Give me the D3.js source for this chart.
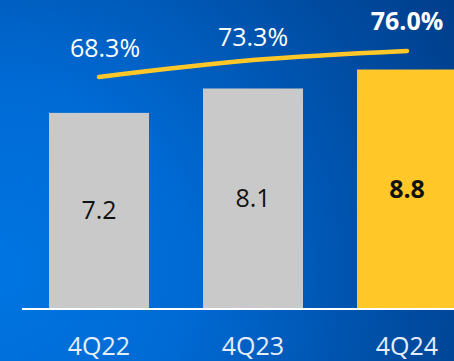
<!DOCTYPE html>
<html>
<head>
<meta charset="utf-8">
<script src="https://cdn.jsdelivr.net/npm/d3@7"></script>
<style>
  html, body { margin: 0; padding: 0; background: #0058b4; }
  svg { display: block; }
  text { font-family: "Open Sans", "Noto Sans", sans-serif; }
</style>
</head>
<body>
<svg id="chart" width="454" height="361"></svg>
<script>
// Quarterly values
const categories = ["4Q22", "4Q23", "4Q24"];
const barValues = [7.2, 8.1, 8.8];
const ratioValues = [68.3, 73.3, 76.0];
const ratioLabels = ["68.3%", "73.3%", "76.0%"];
const barLabels = ["7.2", "8.1", "8.8"];
const highlightIndex = 2;

const W = 454, H = 361;
const svg = d3.select("#chart");

// Background: bright blue glow at lower left fading to deep navy at upper right
const defs = svg.append("defs");
const bg = defs.append("radialGradient")
  .attr("id", "bg")
  .attr("gradientUnits", "userSpaceOnUse")
  .attr("cx", 0).attr("cy", 270).attr("r", 540);
bg.append("stop").attr("offset", "0").attr("stop-color", "#0075e2");
bg.append("stop").attr("offset", "0.35").attr("stop-color", "#006ad4");
bg.append("stop").attr("offset", "0.7").attr("stop-color", "#0050a8");
bg.append("stop").attr("offset", "1").attr("stop-color", "#003c88");
svg.append("rect").attr("width", W).attr("height", H).attr("fill", "url(#bg)");

// Scales
const baseline = 308;
const x = d3.scaleBand()
  .domain(categories)
  .range([22, 22 + 3 * 154])
  .paddingInner(54 / 154)
  .paddingOuter(27 / 154);

const yBar = d3.scaleLinear().domain([0, 10]).range([baseline, baseline - 271]);
const yLine = d3.scaleLinear().domain([60, 80]).range([105, 37.4]);
const yLabel = d3.scaleLinear().domain([68.3, 73.3]).range([57, 45.7]);

const data = categories.map((c, i) => ({
  cat: c, bar: barValues[i], ratio: ratioValues[i],
  ratioLabel: ratioLabels[i], barLabel: barLabels[i], hi: i === highlightIndex
}));

// Bars
svg.append("g").selectAll("rect")
  .data(data).join("rect")
  .attr("x", d => x(d.cat))
  .attr("y", d => yBar(d.bar))
  .attr("width", x.bandwidth())
  .attr("height", d => yBar(0) - yBar(d.bar))
  .attr("fill", d => d.hi ? "#ffc828" : "#c9c9c9");

// Values inside bars
svg.append("g").selectAll("text")
  .data(data).join("text")
  .attr("x", d => x(d.cat) + x.bandwidth() / 2)
  .attr("y", d => (yBar(d.bar) + yBar(0)) / 2 + 9)
  .attr("text-anchor", "middle")
  .attr("font-size", 25)
  .attr("font-weight", d => d.hi ? 700 : 400)
  .attr("fill", "#111")
  .text(d => d.barLabel);

// Baseline
svg.append("line")
  .attr("x1", 22).attr("x2", W)
  .attr("y1", baseline + 1).attr("y2", baseline + 1)
  .attr("stroke", "#ffffff").attr("stroke-width", 2.2);

// Category axis labels
const axis = d3.axisBottom(x).tickSize(0).tickPadding(0);
const gAxis = svg.append("g")
  .attr("transform", `translate(0,${baseline})`)
  .call(axis);
gAxis.select(".domain").remove();
gAxis.selectAll("text")
  .attr("y", 47)
  .attr("dy", 0)
  .attr("font-size", 25)
  .attr("font-family", "'Open Sans', 'Noto Sans', sans-serif")
  .attr("fill", "#e6eefa");

// Ratio line
const line = d3.line()
  .x(d => x(d.cat) + x.bandwidth() / 2)
  .y(d => yLine(d.ratio))
  .curve(d3.curveMonotoneX);
svg.append("path")
  .datum(data)
  .attr("d", line)
  .attr("fill", "none")
  .attr("stroke", "#ffc828")
  .attr("stroke-width", 4.5)
  .attr("stroke-linecap", "round");

// Ratio labels
svg.append("g").selectAll("text")
  .data(data).join("text")
  .attr("x", (d, i) => x(d.cat) + x.bandwidth() / 2 + (i === 0 ? 6 : 0))
  .attr("y", d => d.hi ? yLabel(d.ratio) - 10 : yLabel(d.ratio))
  .attr("text-anchor", "middle")
  .attr("font-size", 25)
  .attr("font-weight", d => d.hi ? 700 : 400)
  .attr("fill", "#ffffff")
  .text(d => d.ratioLabel);
</script>
</body>
</html>
